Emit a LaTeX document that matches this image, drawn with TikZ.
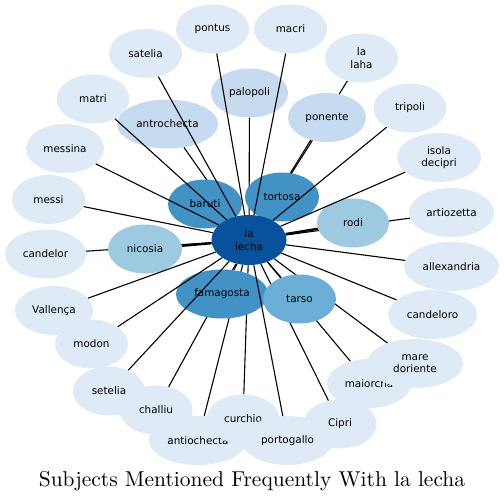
\documentclass[tikz,border=0pt]{standalone}
\usepackage{fontspec}
\newfontfamily\dvs{DejaVu Sans}
\newfontfamily\lmten{lmroman10-regular.otf}
\usetikzlibrary{shapes.geometric}
\pgfdeclarelayer{bg}
\pgfsetlayers{bg,main}
\definecolor{cC}{HTML}{08519C}
\definecolor{cA}{HTML}{4292C6}
\definecolor{cB}{HTML}{6BAED6}
\definecolor{cD}{HTML}{9ECAE1}
\definecolor{cE}{HTML}{C6DBEF}
\definecolor{cF}{HTML}{DEEBF7}
\tikzset{
  nd/.style={ellipse, inner sep=0pt, minimum height=49pt, minimum width=73pt,
    font=\dvs\fontsize{10.4}{12.5}\selectfont, align=center, text=black, fill=cF},
  ed/.style={line width=1.1pt, draw=black},
  edt/.style={line width=2.3pt, draw=black},
  ttl/.style={font=\lmten\fontsize{21.5}{24}\selectfont, inner sep=0pt, anchor=base}
}
\begin{document}
\begin{tikzpicture}[x=1pt,y=-1pt]
\useasboundingbox (0,0) rectangle (504,501);
% outer ring
\node[nd] (pnt) at (212.5,29) {pontus};
\node[nd] (mac) at (290.5,29) {macri};
\node[nd] (sat) at (145.5,53.5) {satelia};
\node[nd] (lah) at (361.5,58) {la\\laha};
\node[nd] (mat) at (93,99) {matri};
\node[nd] (tri) at (410,108) {tripoli};
\node[nd, minimum width=78pt] (mes) at (65,148.5) {messina};
\node[nd, minimum width=84pt] (iso) at (439,157.5) {isola\\decipri};
\node[nd] (msi) at (48.5,199.5) {messi};
\node[nd, minimum width=85pt] (art) at (451.5,212.5) {artiozetta};
\node[nd, minimum width=81pt] (can) at (45.5,254) {candelor};
\node[nd, minimum width=95pt] (all) at (451.5,266.5) {allexandria};
\node[nd, minimum width=78pt] (val) at (54,310.5) {Vallença};
\node[nd, minimum width=89pt] (cdo) at (432.5,314.5) {candeloro};
\node[nd] (mod) at (91.5,344) {modon};
\node[nd, minimum width=84pt] (mai) at (369,383.5) {maiorcha};
\node[nd, minimum width=96pt] (mar) at (415,363.5) {mare\\doriente};
\node[nd, minimum width=72pt] (set) at (109,391) {setelia};
\node[nd] (cha) at (156,410) {challiu};
\node[nd, minimum width=98pt] (aoc) at (198,440.5) {antiochecta};
\node[nd] (cur) at (243,419) {curchio};
\node[nd] (cip) at (340,424) {Cipri};
\node[nd, minimum width=91pt] (por) at (287.5,440.5) {portogallo};
% middle ring
\node[nd, fill=cE, minimum width=77pt] (pal) at (249.5,93) {palopoli};
\node[nd, fill=cE, minimum width=101pt] (ant) at (167.5,124) {antrochecta};
\node[nd, fill=cE, minimum width=78pt] (pon) at (327,117.5) {ponente};
\node[nd, fill=cD, minimum width=74pt] (nic) at (145,249) {nicosia};
\node[nd, fill=cD, minimum width=72pt] (rod) at (353,223) {rodi};
\node[nd, fill=cA, minimum width=74pt] (bar) at (205,204) {baruti};
\node[nd, fill=cA, minimum width=74pt] (tor) at (282,197) {tortosa};
\node[nd, fill=cA, minimum width=92pt] (fam) at (222,294) {famagosta};
\node[nd, fill=cB] (tar) at (299.5,299) {tarso};
% center
\node[nd, fill=cC, minimum width=75pt, minimum height=50pt] (c) at (249,240) {la\\lecha};
% edges hidden under nodes
\begin{pgfonlayer}{bg}
\fill[white] (0,0) rectangle (504,501);
\draw[ed] (c) -- (pal);
\draw[ed] (c) -- (pon);
\draw[ed] (c) -- (lah);
\draw[ed] (c) -- (ant);
\draw[ed] (c) -- (bar);
\draw[ed] (c) -- (tor);
\draw[edt] (c) -- (nic);
\draw[ed] (c) -- (can);
\draw[edt] (c) -- (rod);
\draw[ed] (c) -- (art);
\draw[ed] (c) -- (fam);
\draw[ed] (c) -- (cha);
\draw[ed] (c) -- (aoc);
\draw[ed] (c) -- (cur);
\draw[ed] (c) -- (tar);
\draw[ed] (c) -- (mai);
\draw[ed] (c) -- (mar);
\draw[ed] (c) -- (cip);
\end{pgfonlayer}
% edges drawn over nodes
\draw[ed] (c) -- (pnt);
\draw[ed] (c) -- (mac);
\draw[ed] (c) -- (sat);
\draw[ed] (c) -- (mat);
\draw[ed] (c) -- (mes);
\draw[ed] (c) -- (msi);
\draw[ed] (c) -- (val);
\draw[ed] (c) -- (mod);
\draw[ed] (c) -- (set);
\draw[ed] (c) -- (por);
\draw[ed] (c) -- (tri);
\draw[ed] (c) -- (iso);
\draw[ed] (c) -- (all);
\draw[ed] (c) -- (cdo);
% title
\node[ttl] (title) at (252,486) {Subjects Mentioned Frequently With la lecha};
\end{tikzpicture}
\end{document}
